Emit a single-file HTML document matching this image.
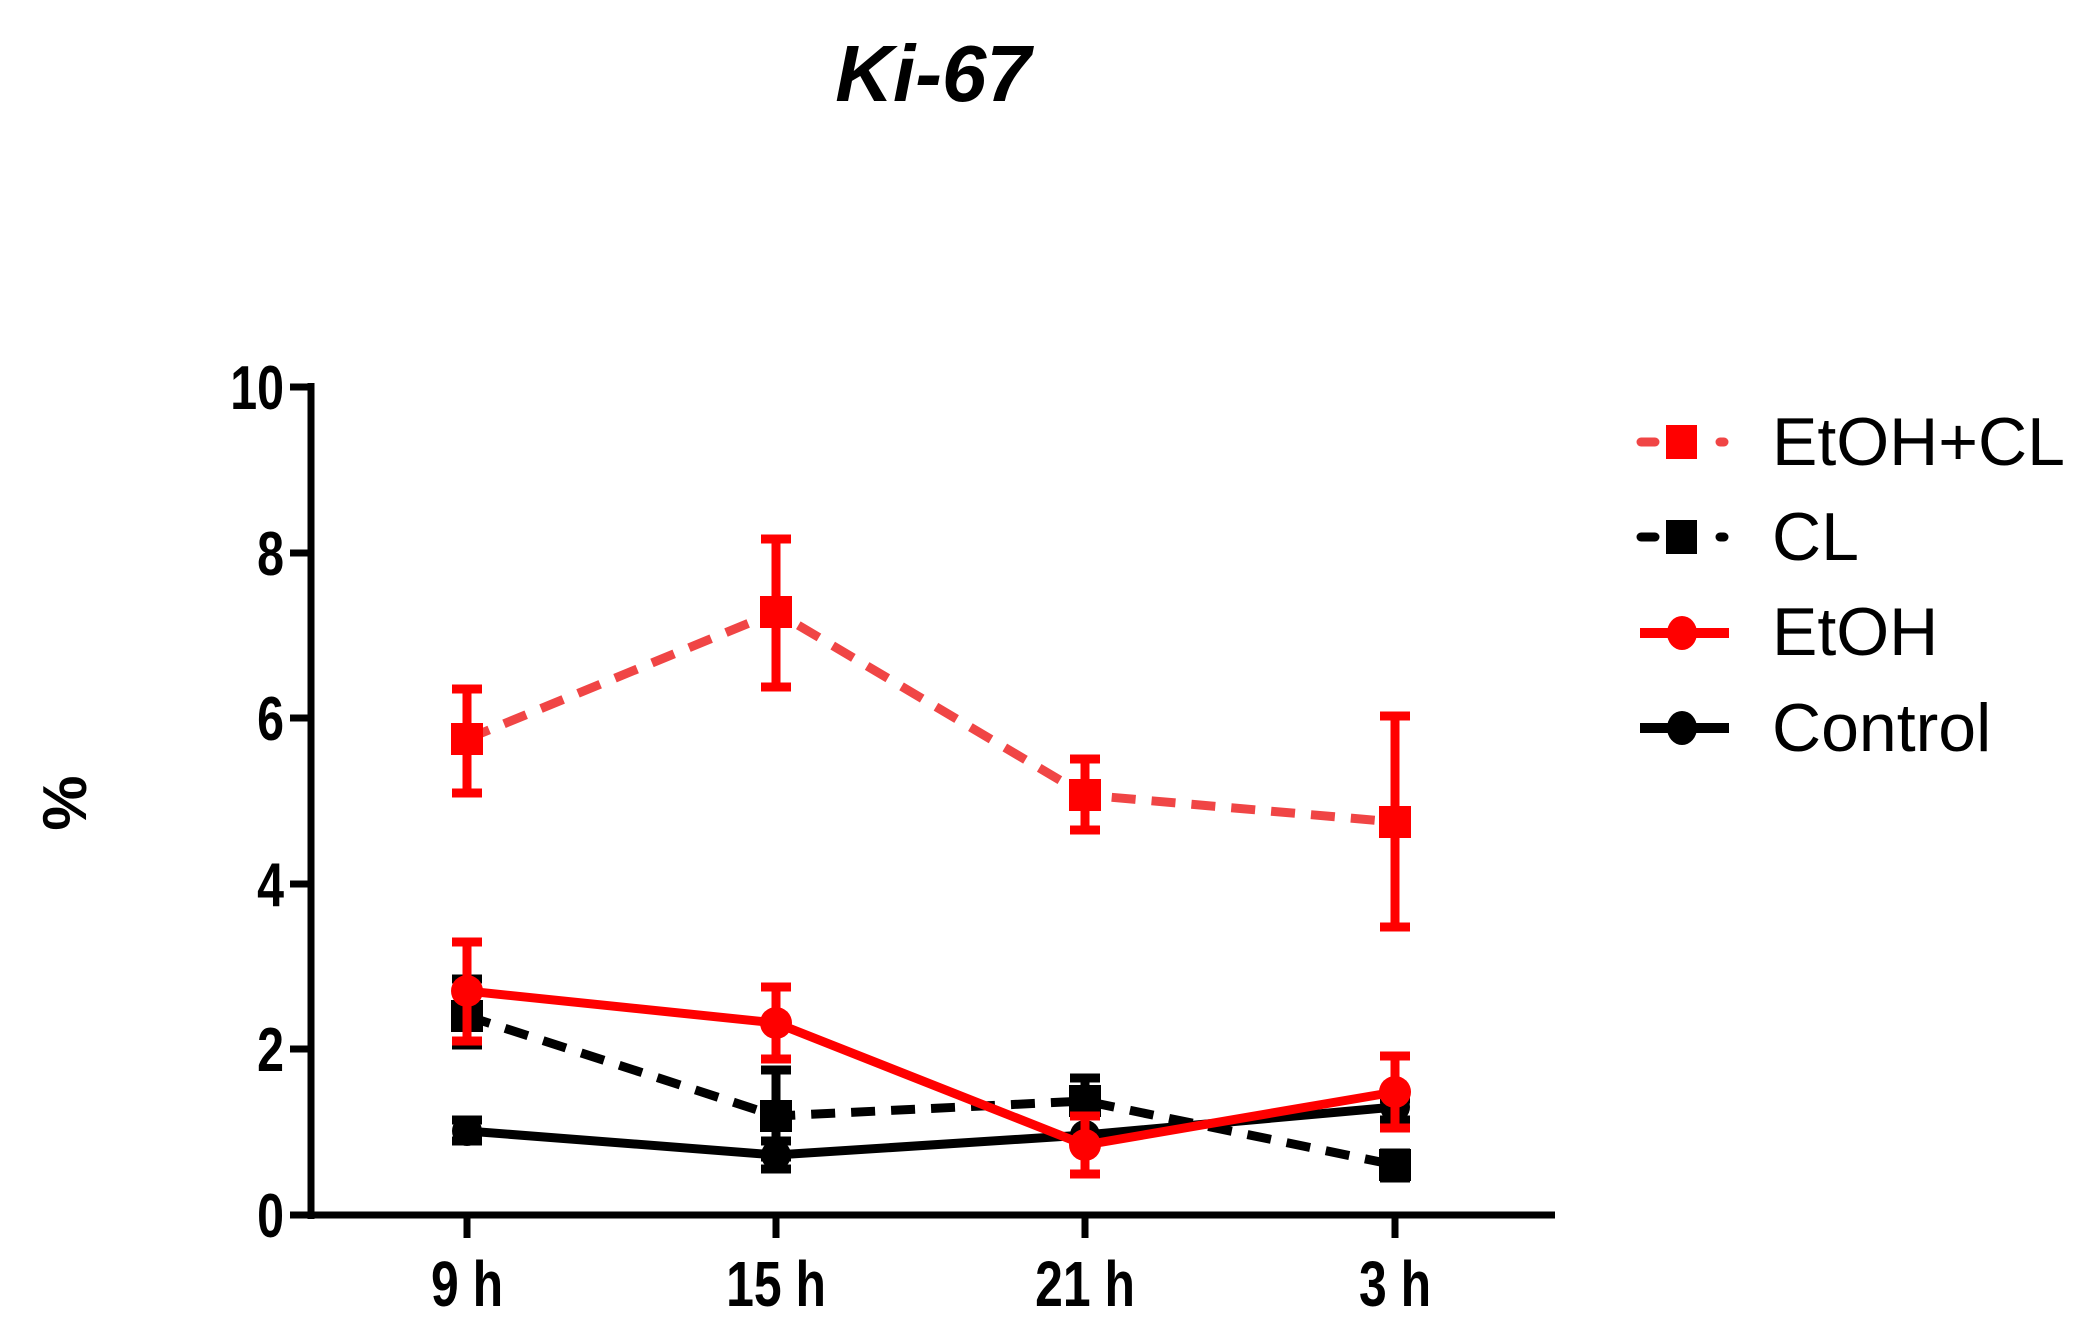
<!DOCTYPE html>
<html><head><meta charset="utf-8"><style>
html,body{margin:0;padding:0;background:#fff;}
svg{display:block;font-family:"Liberation Sans",sans-serif;}
</style></head><body>
<svg width="2090" height="1341" viewBox="0 0 2090 1341" xmlns="http://www.w3.org/2000/svg">
<text x="933" y="101" font-size="80" font-weight="bold" font-style="italic" text-anchor="middle">Ki-67</text>
<!-- axes -->
<g stroke="#000" stroke-width="7" fill="none">
<line x1="311" y1="383" x2="311" y2="1219"/>
<line x1="307" y1="1215" x2="1555" y2="1215"/>
<line x1="290" y1="387" x2="311" y2="387"/>
<line x1="290" y1="553" x2="311" y2="553"/>
<line x1="290" y1="718" x2="311" y2="718"/>
<line x1="290" y1="884" x2="311" y2="884"/>
<line x1="290" y1="1049" x2="311" y2="1049"/>
<line x1="290" y1="1215" x2="311" y2="1215"/>
<line x1="467" y1="1215" x2="467" y2="1238"/>
<line x1="776" y1="1215" x2="776" y2="1238"/>
<line x1="1085" y1="1215" x2="1085" y2="1238"/>
<line x1="1395" y1="1215" x2="1395" y2="1238"/>
</g>
<g font-size="62" font-weight="bold" text-anchor="end">
<text transform="translate(284,409) scale(0.78,1)">10</text>
<text transform="translate(284,575) scale(0.78,1)">8</text>
<text transform="translate(284,740) scale(0.78,1)">6</text>
<text transform="translate(284,906) scale(0.78,1)">4</text>
<text transform="translate(284,1071) scale(0.78,1)">2</text>
<text transform="translate(284,1237) scale(0.78,1)">0</text>
</g>
<g font-size="64" font-weight="bold" text-anchor="middle">
<text transform="translate(467,1306) scale(0.78,1)">9 h</text>
<text transform="translate(776,1306) scale(0.78,1)">15 h</text>
<text transform="translate(1085,1306) scale(0.78,1)">21 h</text>
<text transform="translate(1395,1306) scale(0.78,1)">3 h</text>
</g>
<text transform="translate(86,803) rotate(-90)" font-size="62" font-weight="bold" text-anchor="middle">%</text>

<!-- Control -->
<g stroke="#000" stroke-width="9" fill="#000">
<polyline fill="none" points="467,1131 776,1155 1085,1135 1395,1107"/>
<path d="M467,1141V1120 M776,1169V1141 M1085,1174V1099 M1395,1120V1099" />
<path d="M452,1141H482 M452,1120H482 M761,1169H791 M761,1141H791 M1070,1174H1100 M1070,1099H1100 M1380,1120H1410 M1380,1099H1410"/>
<circle cx="467" cy="1131" r="15" stroke="none"/><circle cx="776" cy="1155" r="15" stroke="none"/><circle cx="1085" cy="1135" r="15" stroke="none"/><circle cx="1395" cy="1107" r="15" stroke="none"/>
</g>
<!-- CL -->
<g stroke="#000" stroke-width="9" fill="#000">
<polyline fill="none" stroke-dasharray="24,16" points="467,1016 776,1116 1085,1101 1395,1165"/>
<path d="M467,1045V979 M776,1157V1070 M1085,1174V1078 M1395,1178V1153"/>
<path d="M452,1045H482 M452,979H482 M761,1157H791 M761,1070H791 M1070,1174H1100 M1070,1078H1100 M1380,1178H1410 M1380,1153H1410"/>
<rect x="451" y="1000" width="32" height="32" stroke="none"/><rect x="760" y="1100" width="32" height="32" stroke="none"/><rect x="1069" y="1085" width="32" height="32" stroke="none"/><rect x="1379" y="1149" width="32" height="32" stroke="none"/>
</g>
<!-- EtOH -->
<g stroke="#ff0000" stroke-width="9" fill="#ff0000">
<polyline fill="none" points="467,991 776,1023 1085,1145 1395,1092"/>
<path d="M467,1041V942 M776,1059V987 M1085,1174V1116 M1395,1128V1056"/>
<path d="M452,1041H482 M452,942H482 M761,1059H791 M761,987H791 M1070,1174H1100 M1070,1116H1100 M1380,1128H1410 M1380,1056H1410"/>
<circle cx="467" cy="991" r="16" stroke="none"/><circle cx="776" cy="1023" r="16" stroke="none"/><circle cx="1085" cy="1145" r="16" stroke="none"/><circle cx="1395" cy="1092" r="16" stroke="none"/>
</g>
<!-- EtOH+CL -->
<g stroke="#ff0000" stroke-width="9" fill="#ff0000">
<polyline fill="none" stroke="#f04545" stroke-dasharray="24,16" points="467,739 776,612 1085,795 1395,822"/>
<path d="M467,793V689 M776,687V539 M1085,830V759 M1395,927V716"/>
<path d="M452,793H482 M452,689H482 M761,687H791 M761,539H791 M1070,830H1100 M1070,759H1100 M1380,927H1410 M1380,716H1410"/>
<rect x="451" y="723" width="32" height="32" stroke="none"/><rect x="760" y="596" width="32" height="32" stroke="none"/><rect x="1069" y="779" width="32" height="32" stroke="none"/><rect x="1379" y="806" width="32" height="32" stroke="none"/>
</g>

<!-- legend -->
<g stroke-width="9" stroke-linecap="round">
<line x1="1641" y1="442" x2="1655" y2="442" stroke="#f04545"/>
<line x1="1720" y1="442" x2="1724" y2="442" stroke="#f04545"/>
<rect x="1666" y="425" width="31" height="34" fill="#ff0000" stroke="none"/>
<line x1="1641" y1="537" x2="1655" y2="537" stroke="#000"/>
<line x1="1720" y1="537" x2="1724" y2="537" stroke="#000"/>
<rect x="1666" y="520" width="31" height="34" fill="#000" stroke="none"/>
<line x1="1640" y1="633" x2="1729" y2="633" stroke="#ff0000" stroke-width="10" stroke-linecap="butt"/>
<ellipse cx="1682" cy="633" rx="15" ry="17" fill="#ff0000"/>
<line x1="1640" y1="728" x2="1729" y2="728" stroke="#000" stroke-width="10" stroke-linecap="butt"/>
<ellipse cx="1682" cy="728" rx="15" ry="17" fill="#000"/>
</g>
<g font-size="68">
<text x="1772" y="465">EtOH+CL</text>
<text x="1772" y="560">CL</text>
<text x="1772" y="655">EtOH</text>
<text x="1772" y="751">Control</text>
</g>
</svg>
</body></html>
